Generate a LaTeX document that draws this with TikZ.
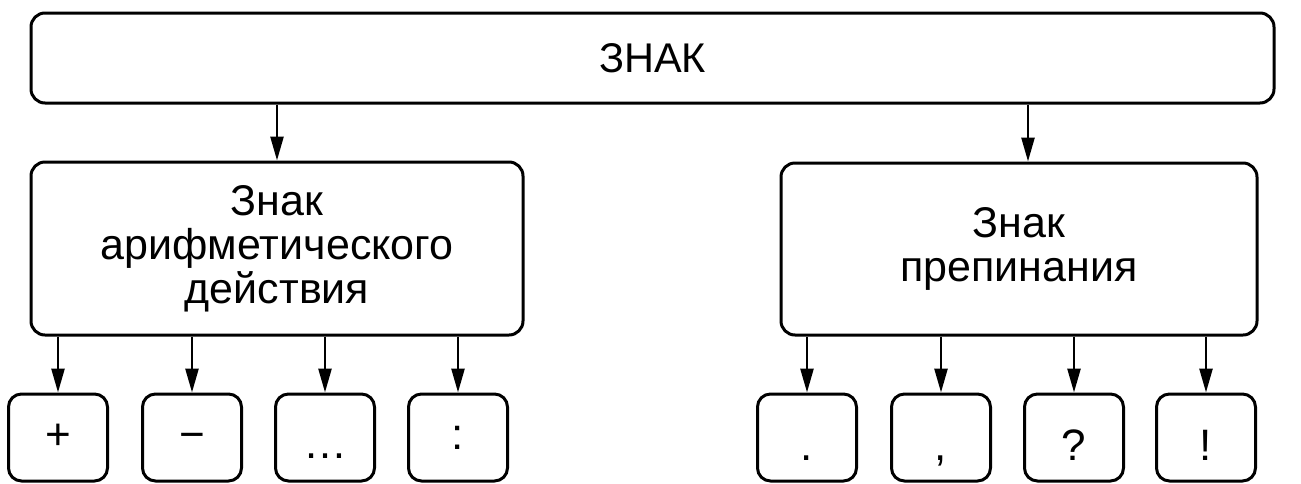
\documentclass[tikz,border=0pt]{standalone}
\usepackage{fontspec}
\setmainfont{Liberation Sans}
\usetikzlibrary{arrows.meta}
\begin{document}
\begin{tikzpicture}[x=1pt,y=-1pt,
  every node/.style={font=\fontsize{43}{44}\selectfont},
  bigbox/.style={draw, line width=3pt, rounded corners=14pt, inner sep=0pt, align=center},
  leafL/.style={draw, line width=3pt, rounded corners=13pt, inner sep=0pt,
    minimum width=99pt, minimum height=87pt, text height=23pt, text depth=0pt,
    font=\fontsize{44}{44}\selectfont},
  leafR/.style={draw, line width=3pt, rounded corners=13pt, inner sep=0pt,
    minimum width=99pt, minimum height=87pt, text height=45pt, text depth=0pt,
    font=\fontsize{44}{44}\selectfont},
  arr/.style={line width=2.6pt, -{Triangle[length=24pt,width=13pt]}}]
\useasboundingbox (0,0) rectangle (1301,483);
\node[bigbox, minimum width=1243pt, minimum height=90pt, font=\fontsize{41.5}{44}\selectfont] (top) at (652.5,58) {ЗНАК};
\node[bigbox, minimum width=492pt, minimum height=173pt] (lb) at (277,248.5) {Знак\\арифметического\\действия};
\node[bigbox, minimum width=476pt, minimum height=172pt] (rb) at (1019,249) {Знак\\препинания};
\coordinate (xr) at (1028,0);
\draw[arr] (top.south -| lb.north) -- (lb.north);
\draw[arr] (top.south -| xr) -- (rb.north -| xr);
\node[leafL] (plus) at (58,437.5) {+};
\node[leafL] (minus) at (192,437.5) {−};
\node[leafL] (dots) at (325,437.5) {\raisebox{-9pt}{…}};
\node[leafL] (colon) at (458,437.5) {:};
\node[leafR] (dot) at (807,437.5) {.};
\node[leafR] (comma) at (941,437.5) {,};
\node[leafR] (quest) at (1074,437.5) {?};
\node[leafR] (excl) at (1206,437.5) {!};
\foreach \n in {plus,minus,dots,colon}{
  \draw[arr] (lb.south -| \n.north) -- (\n.north);
}
\foreach \n in {dot,comma,quest,excl}{
  \draw[arr] (rb.south -| \n.north) -- (\n.north);
}
\end{tikzpicture}
\end{document}
